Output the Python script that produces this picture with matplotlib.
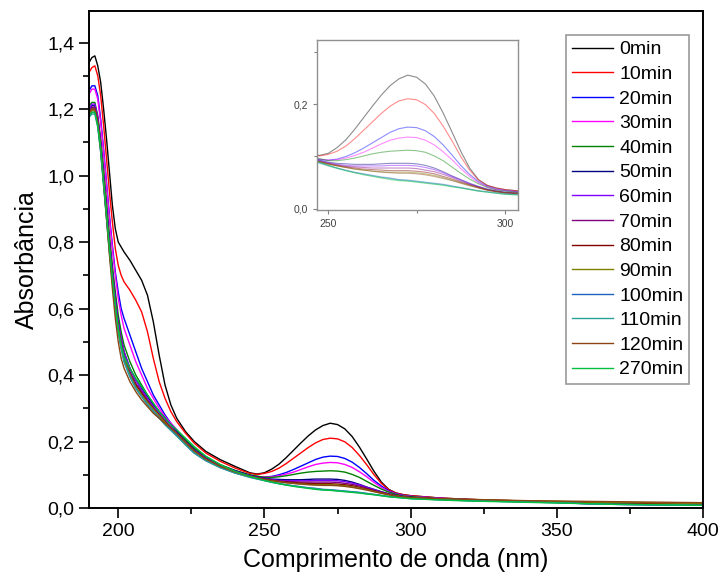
import matplotlib
matplotlib.use("Agg")
import matplotlib.pyplot as plt
from matplotlib.ticker import MultipleLocator, FuncFormatter

plt.rcParams['font.family'] = ['Liberation Sans', 'DejaVu Sans']

wl = [190, 191, 192, 193, 194, 195, 196, 197, 198, 199, 200, 201, 202,
      204, 206, 208, 210, 212, 214, 216, 218, 220,
      223, 226, 230, 235, 240,
      245, 247.5, 250, 252.5, 255, 257.5, 260, 262.5, 265, 267.5, 270, 272.5,
      275, 277.5, 280, 282.5, 285, 287.5, 290, 292.5, 295, 297.5, 300,
      310, 320, 330, 340, 350, 360, 370, 380, 390, 400]

labels = ['0min', '10min', '20min', '30min', '40min', '50min', '60min',
          '70min', '80min', '90min', '100min', '110min', '120min', '270min']

a0 = [1.34, 1.355, 1.36, 1.33, 1.28, 1.20, 1.11, 1.01, 0.91, 0.84, 0.80, 0.785, 0.77,
      0.745, 0.715, 0.685, 0.64, 0.56, 0.46, 0.37, 0.31, 0.27,
      0.23, 0.20, 0.17, 0.145, 0.125,
      0.106, 0.102, 0.106, 0.117, 0.132, 0.152, 0.174, 0.196, 0.217, 0.235, 0.248, 0.255,
      0.251, 0.238, 0.215, 0.183, 0.147, 0.11, 0.078, 0.056, 0.045, 0.04, 0.037,
      0.030, 0.026, 0.023, 0.021, 0.018, 0.015, 0.013, 0.012, 0.011, 0.010]
a10 = [1.31, 1.325, 1.33, 1.30, 1.24, 1.15, 1.05, 0.95, 0.86, 0.78, 0.73, 0.70, 0.68,
       0.655, 0.625, 0.59, 0.53, 0.45, 0.38, 0.33, 0.29, 0.26,
       0.225, 0.195, 0.165, 0.14, 0.12,
       0.104, 0.101, 0.104, 0.11, 0.12, 0.134, 0.15, 0.166, 0.182, 0.196, 0.206, 0.21,
       0.208, 0.199, 0.182, 0.158, 0.13, 0.1, 0.074, 0.055, 0.045, 0.04, 0.037,
       0.030, 0.026, 0.023, 0.021, 0.018, 0.015, 0.013, 0.012, 0.011, 0.010]
a20 = [1.255, 1.27, 1.27, 1.24, 1.17, 1.08, 0.98, 0.88, 0.79, 0.71, 0.65, 0.60, 0.57,
       0.52, 0.47, 0.42, 0.38, 0.34, 0.31, 0.28, 0.255, 0.235,
       0.205, 0.175, 0.145, 0.125, 0.11,
       0.097, 0.094, 0.093, 0.095, 0.1, 0.107, 0.116, 0.126, 0.136, 0.146, 0.153, 0.156,
       0.155, 0.149, 0.138, 0.122, 0.103, 0.083, 0.066, 0.052, 0.043, 0.038, 0.035,
       0.029, 0.025, 0.022, 0.02, 0.017, 0.013, 0.011, 0.01, 0.009, 0.008]
a30 = [1.245, 1.26, 1.26, 1.23, 1.16, 1.07, 0.97, 0.87, 0.78, 0.70, 0.63, 0.58, 0.54,
       0.49, 0.44, 0.40, 0.36, 0.33, 0.30, 0.275, 0.255, 0.235,
       0.205, 0.18, 0.15, 0.128, 0.112,
       0.098, 0.095, 0.093, 0.094, 0.097, 0.102, 0.108, 0.116, 0.124, 0.131, 0.135, 0.137,
       0.136, 0.131, 0.122, 0.109, 0.094, 0.077, 0.062, 0.05, 0.042, 0.037, 0.035,
       0.029, 0.025, 0.022, 0.02, 0.017, 0.014, 0.012, 0.011, 0.01, 0.009]
a40 = [1.21, 1.22, 1.22, 1.18, 1.11, 1.02, 0.92, 0.82, 0.73, 0.65, 0.58, 0.53, 0.49,
       0.44, 0.40, 0.37, 0.34, 0.315, 0.29, 0.27, 0.25, 0.23,
       0.205, 0.18, 0.155, 0.13, 0.113,
       0.1, 0.096, 0.092, 0.092, 0.094, 0.097, 0.101, 0.105, 0.108, 0.11, 0.111, 0.112,
       0.111, 0.108, 0.101, 0.092, 0.08, 0.068, 0.057, 0.048, 0.041, 0.036, 0.034,
       0.028, 0.025, 0.022, 0.02, 0.018, 0.015, 0.013, 0.012, 0.011, 0.01]
a50 = [1.20, 1.21, 1.21, 1.17, 1.10, 1.00, 0.90, 0.80, 0.71, 0.63, 0.56, 0.51, 0.47,
       0.42, 0.385, 0.36, 0.335, 0.31, 0.29, 0.27, 0.25, 0.23,
       0.20, 0.175, 0.15, 0.128, 0.112,
       0.098, 0.093, 0.089, 0.087, 0.086, 0.085, 0.085, 0.085, 0.086, 0.087, 0.087, 0.087,
       0.086, 0.083, 0.078, 0.071, 0.063, 0.056, 0.049, 0.043, 0.038, 0.034, 0.032,
       0.027, 0.024, 0.021, 0.019, 0.017, 0.014, 0.012, 0.011, 0.01, 0.009]
a60 = [1.20, 1.215, 1.215, 1.175, 1.10, 1.00, 0.90, 0.80, 0.71, 0.63, 0.56, 0.51, 0.47,
       0.42, 0.385, 0.355, 0.33, 0.305, 0.285, 0.265, 0.245, 0.225,
       0.198, 0.173, 0.148, 0.126, 0.11,
       0.097, 0.092, 0.088, 0.085, 0.083, 0.082, 0.082, 0.082, 0.082, 0.083, 0.083, 0.083,
       0.082, 0.079, 0.075, 0.069, 0.062, 0.055, 0.048, 0.042, 0.037, 0.034, 0.031,
       0.027, 0.024, 0.021, 0.019, 0.017, 0.014, 0.012, 0.011, 0.01, 0.009]
a70 = [1.195, 1.205, 1.205, 1.165, 1.09, 0.99, 0.89, 0.79, 0.70, 0.62, 0.55, 0.50, 0.46,
       0.41, 0.375, 0.35, 0.325, 0.30, 0.28, 0.26, 0.24, 0.222,
       0.195, 0.17, 0.146, 0.125, 0.109,
       0.096, 0.091, 0.087, 0.084, 0.081, 0.08, 0.079, 0.078, 0.078, 0.078, 0.078, 0.078,
       0.077, 0.074, 0.071, 0.066, 0.06, 0.053, 0.047, 0.042, 0.037, 0.034, 0.031,
       0.027, 0.024, 0.021, 0.019, 0.017, 0.015, 0.013, 0.012, 0.011, 0.01]
a80 = [1.19, 1.20, 1.20, 1.16, 1.08, 0.98, 0.88, 0.78, 0.69, 0.61, 0.54, 0.49, 0.45,
       0.40, 0.37, 0.345, 0.32, 0.30, 0.28, 0.26, 0.24, 0.222,
       0.195, 0.17, 0.146, 0.124, 0.108,
       0.095, 0.09, 0.086, 0.083, 0.08, 0.078, 0.076, 0.075, 0.074, 0.073, 0.073, 0.073,
       0.072, 0.07, 0.067, 0.062, 0.057, 0.051, 0.046, 0.041, 0.036, 0.033, 0.031,
       0.027, 0.024, 0.022, 0.02, 0.018, 0.016, 0.014, 0.013, 0.012, 0.011]
a90 = [1.185, 1.195, 1.195, 1.155, 1.08, 0.98, 0.88, 0.78, 0.69, 0.61, 0.54, 0.49, 0.45,
       0.40, 0.365, 0.34, 0.318, 0.298, 0.278, 0.258, 0.24, 0.222,
       0.195, 0.17, 0.146, 0.124, 0.108,
       0.095, 0.09, 0.085, 0.082, 0.079, 0.076, 0.074, 0.072, 0.071, 0.07, 0.07, 0.07,
       0.069, 0.067, 0.064, 0.06, 0.055, 0.05, 0.045, 0.04, 0.036, 0.033, 0.031,
       0.027, 0.025, 0.023, 0.021, 0.02, 0.018, 0.017, 0.016, 0.015, 0.014]
a100 = [1.18, 1.19, 1.19, 1.15, 1.07, 0.97, 0.87, 0.77, 0.68, 0.60, 0.53, 0.48, 0.44,
        0.395, 0.36, 0.335, 0.312, 0.292, 0.272, 0.252, 0.235, 0.218,
        0.19, 0.165, 0.142, 0.121, 0.105,
        0.093, 0.088, 0.083, 0.078, 0.074, 0.07, 0.067, 0.064, 0.061, 0.059, 0.056, 0.055,
        0.053, 0.051, 0.049, 0.047, 0.044, 0.041, 0.038, 0.035, 0.033, 0.031, 0.029,
        0.025, 0.022, 0.02, 0.018, 0.016, 0.013, 0.011, 0.01, 0.009, 0.008]
a110 = [1.175, 1.185, 1.185, 1.145, 1.07, 0.97, 0.87, 0.77, 0.68, 0.60, 0.53, 0.48, 0.44,
        0.395, 0.36, 0.335, 0.31, 0.29, 0.27, 0.25, 0.233, 0.216,
        0.19, 0.165, 0.142, 0.121, 0.105,
        0.092, 0.087, 0.082, 0.077, 0.073, 0.069, 0.066, 0.063, 0.06, 0.058, 0.055, 0.054,
        0.052, 0.05, 0.048, 0.046, 0.043, 0.04, 0.037, 0.034, 0.032, 0.03, 0.028,
        0.025, 0.022, 0.02, 0.018, 0.016, 0.013, 0.011, 0.01, 0.009, 0.008]
a120 = [1.19, 1.20, 1.20, 1.16, 1.08, 0.98, 0.87, 0.76, 0.66, 0.57, 0.50, 0.45, 0.42,
        0.38, 0.35, 0.325, 0.305, 0.285, 0.27, 0.255, 0.24, 0.225,
        0.198, 0.172, 0.147, 0.125, 0.108,
        0.095, 0.09, 0.086, 0.082, 0.079, 0.076, 0.074, 0.072, 0.07, 0.069, 0.068, 0.068,
        0.067, 0.065, 0.062, 0.058, 0.054, 0.049, 0.044, 0.04, 0.036, 0.033, 0.031,
        0.028, 0.026, 0.024, 0.022, 0.021, 0.02, 0.019, 0.018, 0.017, 0.016]
a270 = [1.18, 1.19, 1.19, 1.15, 1.08, 0.98, 0.88, 0.78, 0.69, 0.61, 0.54, 0.49, 0.455,
        0.42, 0.39, 0.365, 0.34, 0.315, 0.29, 0.27, 0.25, 0.235,
        0.21, 0.185, 0.155, 0.13, 0.11,
        0.095, 0.089, 0.083, 0.078, 0.073, 0.069, 0.065, 0.062, 0.059, 0.056, 0.054, 0.053,
        0.051, 0.049, 0.047, 0.045, 0.042, 0.04, 0.037, 0.034, 0.032, 0.03, 0.028,
        0.024, 0.021, 0.019, 0.017, 0.015, 0.013, 0.011, 0.01, 0.009, 0.008]

series = [a0, a10, a20, a30, a40, a50, a60, a70, a80, a90, a100, a110, a120, a270]
colors = ['#000000', '#FF0000', '#0000FF', '#FF00FF', '#008000', '#000080', '#8000FF',
          '#800080', '#800000', '#808000', '#1F63C0', '#2AA198', '#8B4513', '#00C040']

fig = plt.figure(figsize=(7.24, 5.88), dpi=100)
ax = fig.add_axes([89/724, 1-508/588, (703-89)/724, (508-11)/588])

for y, c, lab in zip(series, colors, labels):
    ax.plot(wl, y, color=c, lw=1.0, label=lab)

ax.set_xlim(190, 400)
ax.set_ylim(0, 1.495)
ax.xaxis.set_major_locator(MultipleLocator(50))
ax.xaxis.set_minor_locator(MultipleLocator(25))
ax.yaxis.set_major_locator(MultipleLocator(0.2))
ax.yaxis.set_minor_locator(MultipleLocator(0.1))
ax.yaxis.set_major_formatter(FuncFormatter(lambda v, p: f"{v:.1f}".replace('.', ',')))
ax.tick_params(which='major', direction='out', length=7, width=1.2, labelsize=14, top=False, right=False)
ax.tick_params(which='minor', direction='out', length=4, width=1.2, top=False, right=False)
for s in ax.spines.values():
    s.set_linewidth(1.4)
ax.set_xlabel('Comprimento de onda (nm)', fontsize=18, labelpad=6)
ax.set_ylabel('Absorbância', fontsize=18, labelpad=6)

leg = fig.legend(loc='upper left', bbox_to_anchor=(566/724, 1-35/588), fontsize=14,
                 frameon=True, fancybox=False, edgecolor='#808080', handlelength=2.1,
                 handletextpad=0.35, labelspacing=0.36, borderpad=0.3, borderaxespad=0)
leg.get_frame().set_linewidth(1.2)

# inset
axi = fig.add_axes([317/724, 1-210/588, (518-317)/724, (210-40)/588])
for y, c in zip(series, colors):
    axi.plot(wl, y, color=c, lw=0.8, alpha=0.45)
axi.set_xlim(246.8, 303.7)
axi.set_ylim(-0.002, 0.322)
axi.xaxis.set_major_locator(MultipleLocator(50))
axi.xaxis.set_minor_locator(MultipleLocator(25))
axi.yaxis.set_major_locator(MultipleLocator(0.2))
axi.yaxis.set_minor_locator(MultipleLocator(0.1))
axi.yaxis.set_major_formatter(FuncFormatter(lambda v, p: f"{v:.1f}".replace('.', ',')))
axi.tick_params(which='both', direction='out', color='#808080', labelcolor='#404040',
                labelsize=7.5, width=0.8, top=False, right=False)
axi.tick_params(which='major', length=3)
axi.tick_params(which='minor', length=2)
for s in axi.spines.values():
    s.set_color('#909090')
    s.set_linewidth(1.0)

fig.savefig('out.png', dpi=100)
